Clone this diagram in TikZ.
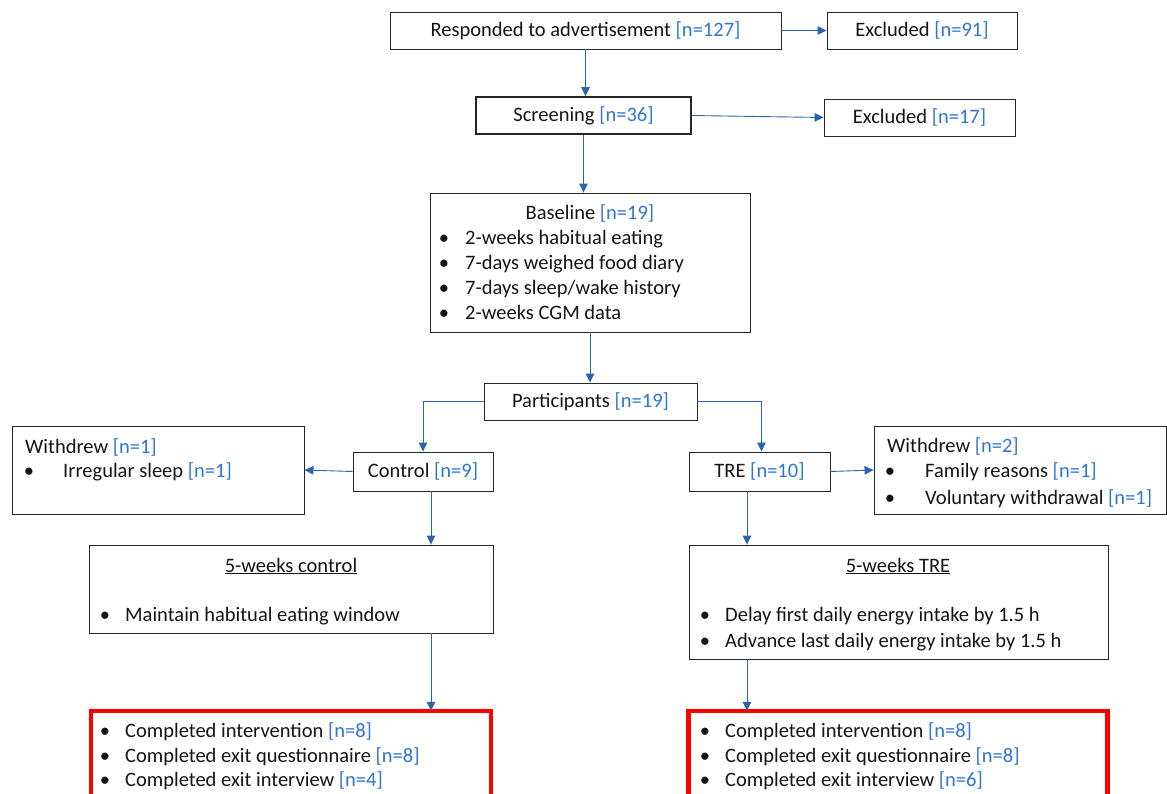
\documentclass[tikz,border=0pt]{standalone}
\usepackage{fontspec}
\setmainfont{Carlito}
\usetikzlibrary{arrows.meta}
\definecolor{nblue}{RGB}{46,117,214}
\definecolor{lblue}{RGB}{44,100,172}
\definecolor{ared}{RGB}{255,0,0}
\definecolor{tblack}{RGB}{20,20,20}
\newcommand{\nn}[1]{\textcolor{nblue}{[n=#1]}}
\begin{document}
\begin{tikzpicture}[x=1pt,y=-1pt, font=\fontsize{20.5}{25}\selectfont, text=tblack,
  box/.style={draw=black!85, line width=0.9pt, inner sep=0pt},
  conn/.style={draw=lblue, line width=0.9pt, -{Triangle[length=9pt,width=8.5pt]}},
  txt/.style={anchor=base west, inner sep=0pt},
  ctxt/.style={anchor=base, inner sep=0pt},
  bul/.style={anchor=base, inner sep=0pt},
  redbox/.style={draw=ared, line width=4.5pt, inner sep=0pt}]
\clip (0,0) rectangle (1167,793);
% boxes
\node[box, minimum width=391pt, minimum height=37pt] (resp) at (585.5,30.5) {Responded to advertisement \nn{127}};
\node[box, minimum width=190pt, minimum height=37pt] (exc1) at (922,30.5) {Excluded \nn{91}};
\node[box, line width=1.6pt, minimum width=215pt, minimum height=37pt] (screen) at (583.5,115.5) {Screening \nn{36}};
\node[box, minimum width=191pt, minimum height=37pt] (exc2) at (919.5,117.5) {Excluded \nn{17}};
\node[box, minimum width=320pt, minimum height=139pt] (base) at (590,262.5) {};
\node[box, minimum width=213pt, minimum height=37pt] (part) at (590.5,401.5) {Participants \nn{19}};
\node[box, minimum width=292pt, minimum height=88pt] (wd1) at (158,470) {};
\node[box, minimum width=140pt, minimum height=39pt] (ctrl) at (423,471.5) {Control \nn{9}};
\node[box, minimum width=141pt, minimum height=39pt] (tre) at (759.5,471.5) {TRE \nn{10}};
\node[box, minimum width=292pt, minimum height=88pt] (wd2) at (1020,470) {};
\node[box, minimum width=404pt, minimum height=88pt] (wk1) at (291,589) {};
\node[box, minimum width=419pt, minimum height=114pt] (wk2) at (898.5,602) {};
\node[redbox, minimum width=400pt, minimum height=99pt] (red1) at (291,760.5) {};
\node[redbox, minimum width=419pt, minimum height=99pt] (red2) at (898,760.5) {};
% baseline text
\node[ctxt] (bt) at (590,219) {Baseline \nn{19}};
\node[bul] (bb1) at (444,244) {•};
\node[txt] (bl1) at (465,244) {2-weeks habitual eating};
\node[bul] (bb2) at (444,269) {•};
\node[txt] (bl2) at (465,269) {7-days weighed food diary};
\node[bul] (bb3) at (444,294) {•};
\node[txt] (bl3) at (465,294) {7-days sleep/wake history};
\node[bul] (bb4) at (444,319) {•};
\node[txt] (bl4) at (465,319) {2-weeks CGM data};
% withdrew 1
\node[txt] (w1t) at (25,453) {Withdrew \nn{1}};
\node[bul] (w1b) at (29,477) {•};
\node[txt] (w1l) at (63,477) {Irregular sleep \nn{1}};
% withdrew 2
\node[txt] (w2t) at (887,452) {Withdrew \nn{2}};
\node[bul] (w2b1) at (890,477) {•};
\node[txt] (w2l1) at (925,477) {Family reasons \nn{1}};
\node[bul] (w2b2) at (890,504) {•};
\node[txt] (w2l2) at (925,504) {Voluntary withdrawal \nn{1}};
% 5-weeks control
\node[ctxt] (k1t) at (291,572) {\underline{5-weeks control}};
\node[bul] (k1b) at (105,621) {•};
\node[txt] (k1l) at (125,621) {Maintain habitual eating window};
% 5-weeks TRE
\node[ctxt] (k2t) at (898,572) {\underline{5-weeks TRE}};
\node[bul] (k2b1) at (705,621) {•};
\node[txt] (k2l1) at (725,621) {Delay first daily energy intake by 1.5 h};
\node[bul] (k2b2) at (705,647) {•};
\node[txt] (k2l2) at (725,647) {Advance last daily energy intake by 1.5 h};
% red left
\node[bul] (r1b1) at (105,737) {•};
\node[txt] (r1l1) at (125,737) {Completed intervention \nn{8}};
\node[bul] (r1b2) at (105,762) {•};
\node[txt] (r1l2) at (125,762) {Completed exit questionnaire \nn{8}};
\node[bul] (r1b3) at (105,786) {•};
\node[txt] (r1l3) at (125,786) {Completed exit interview \nn{4}};
% red right
\node[bul] (r2b1) at (705,737) {•};
\node[txt] (r2l1) at (725,737) {Completed intervention \nn{8}};
\node[bul] (r2b2) at (705,762) {•};
\node[txt] (r2l2) at (725,762) {Completed exit questionnaire \nn{8}};
\node[bul] (r2b3) at (705,786) {•};
\node[txt] (r2l3) at (725,786) {Completed exit interview \nn{6}};
% connectors
\draw[conn] (resp.south) -- (resp.south |- screen.north);
\draw[conn] (resp.east) -- (exc1.west);
\draw[conn] (screen.east) -- (exc2.west);
\draw[conn] (screen.south) -- (screen.south |- base.north);
\draw[conn] (base.south) -- (base.south |- part.north);
\draw[conn] (part.west) -| (ctrl.north);
\draw[conn] (part.east) -| ([xshift=2pt]tre.north);
\draw[conn] (ctrl.west) -- (wd1.east);
\draw[conn] (tre.east) -- (wd2.west);
\coordinate (c1) at ([xshift=8pt]ctrl.south);
\coordinate (c2) at ([xshift=-12.5pt]tre.south);
\draw[conn] (c1) -- (c1 |- wk1.north);
\draw[conn] (c1 |- wk1.south) -- ([yshift=-2pt]c1 |- red1.north);
\draw[conn] (c2) -- (c2 |- wk2.north);
\draw[conn] (c2 |- wk2.south) -- ([yshift=-2pt]c2 |- red2.north);
\end{tikzpicture}
\end{document}
